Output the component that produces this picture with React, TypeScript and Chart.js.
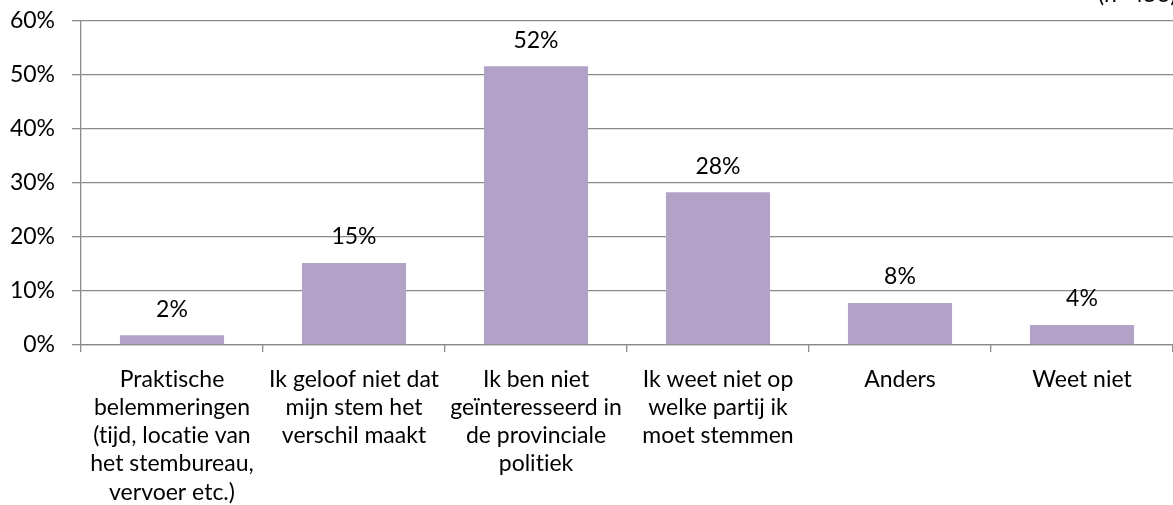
import React, { useEffect, useRef } from "react";
import { Chart, registerables } from "chart.js";

Chart.register(...registerables);

const categories: string[][] = [
  ["Praktische", "belemmeringen", "(tijd, locatie van", "het stembureau,", "vervoer etc.)"],
  ["Ik geloof niet dat", "mijn stem het", "verschil maakt"],
  ["Ik ben niet", "geïnteresseerd in", "de provinciale", "politiek"],
  ["Ik weet niet op", "welke partij ik", "moet stemmen"],
  ["Anders"],
  ["Weet niet"],
];
const values: number[] = [1.8, 15.2, 51.6, 28.3, 7.8, 3.7];
const yTicks: number[] = [0, 10, 20, 30, 40, 50, 60];
const cornerNote = "(n=456)";

const FONT = "Lato";
const FS = 23;
const GRID = "#8a8a8a";

export default function App() {
  const ref = useRef<HTMLCanvasElement | null>(null);

  useEffect(() => {
    if (!ref.current) return;
    const labelPlugin = {
      id: "valueLabels",
      beforeDraw(chart: any) {
        try {
          chart.ctx.textRendering = "optimizeSpeed";
        } catch (e) {}
      },
      afterDatasetsDraw(chart: any) {
        const ctx = chart.ctx;
        const meta = chart.getDatasetMeta(0);
        ctx.save();
        ctx.font = `${FS}px ${FONT}`;
        ctx.fillStyle = "#000";
        ctx.textAlign = "center";
        ctx.textBaseline = "middle";
        meta.data.forEach((bar: any, i: number) => {
          ctx.fillText(Math.round(values[i]) + "%", bar.x, bar.y - 26);
        });
        ctx.textAlign = "left";
        ctx.textBaseline = "alphabetic";
        ctx.fillText(cornerNote, 1098, 2);
        ctx.restore();
      },
    };
    const chart = new Chart(ref.current, {
      type: "bar",
      data: {
        labels: categories,
        datasets: [
          {
            data: values,
            backgroundColor: "#B2A2C7",
            borderWidth: 0,
            categoryPercentage: 0.572,
            barPercentage: 1,
          },
        ],
      },
      options: {
        animation: false,
        responsive: false,
        maintainAspectRatio: false,
        layout: { padding: { top: 21, right: 0, left: 0, bottom: 0 } },
        plugins: { legend: { display: false }, tooltip: { enabled: false } },
        scales: {
          x: {
            grid: {
              display: true,
              offset: true,
              drawOnChartArea: false,
              drawTicks: true,
              tickLength: 7,
              color: GRID,
              lineWidth: 1.3,
            },
            border: { display: true, color: GRID, width: 1.3 },
            ticks: {
              color: "#000",
              font: { family: FONT, size: FS, lineHeight: 1.23 },
              padding: 13,
              maxRotation: 0,
              autoSkip: false,
            },
            afterFit(scale: any) {
              scale.height = 160;
              scale.paddingLeft = 0;
              scale.paddingRight = 0;
            },
          },
          y: {
            min: 0,
            max: 60,
            afterBuildTicks(scale: any) {
              scale.ticks = yTicks.map((v) => ({ value: v }));
            },
            grid: {
              color: GRID,
              lineWidth: 1.3,
              tickLength: 9,
              drawTicks: true,
            },
            border: { display: true, color: GRID, width: 1.3 },
            ticks: {
              color: "#000",
              font: { family: FONT, size: FS },
              padding: 17,
              callback: (v: any) => v + "%",
            },
            afterFit(scale: any) {
              scale.width = 81;
              scale.paddingTop = 0;
              scale.paddingBottom = 0;
            },
          },
        },
      },
      plugins: [labelPlugin],
    });
    return () => chart.destroy();
  }, []);

  return (
    <div style={{ position: "fixed", left: 0, top: 0, width: 1173, height: 505, background: "#fff" }}>
      <canvas ref={ref} width={1173} height={505} style={{ width: 1173, height: 505 }} />
    </div>
  );
}
